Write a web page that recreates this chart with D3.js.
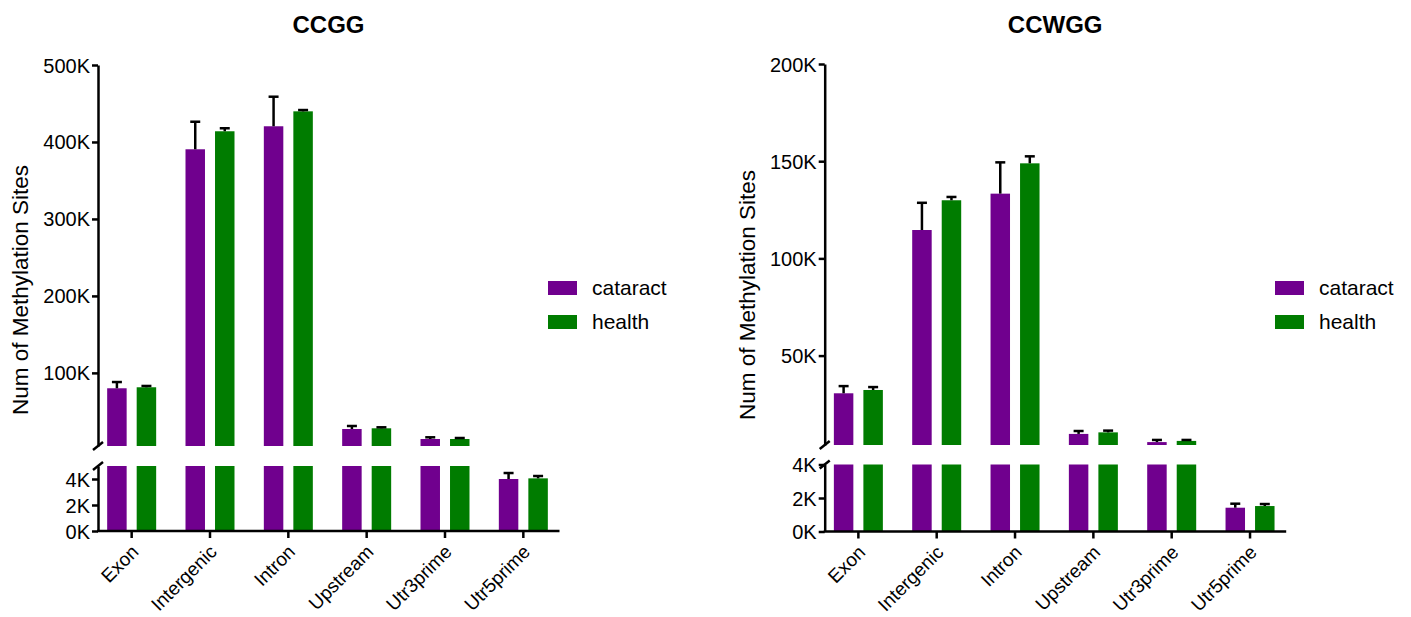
<!DOCTYPE html>
<html>
<head>
<meta charset="utf-8">
<script src="https://cdn.jsdelivr.net/npm/d3@7"></script>
<style>
  body { margin: 0; background: #fff; }
  svg text { font-family: Arial, "Liberation Sans", sans-serif; fill: #000; }
</style>
</head>
<body>
<svg id="chart" width="1411" height="617"></svg>
<script>
'use strict';

// categories + series
var categories = ['Exon', 'Intergenic', 'Intron', 'Upstream', 'Utr3prime', 'Utr5prime'];
var groups = ['cataract', 'health'];
var colors = ['#70008e', '#007c00'];

// CCGG
var ccggCataract    = [80000, 390500, 420400, 27100, 14100, 4000];
var ccggCataractErr = [8100, 35800, 38400, 3900, 2200, 460];
var ccggHealth      = [81300, 413900, 439800, 28000, 14100, 4050];
var ccggHealthErr   = [1700, 3900, 1700, 1300, 1300, 180];
var ccggUpperTicks  = [100000, 200000, 300000, 400000, 500000];
var ccggLowerTicks  = [0, 2000, 4000];

// CCWGG
var ccwggCataract    = [30600, 114600, 133300, 9700, 5500, 1420];
var ccwggCataractErr = [3700, 14000, 16100, 1500, 1100, 240];
var ccwggHealth      = [32300, 129900, 148900, 10500, 6100, 1520];
var ccwggHealthErr   = [1500, 1700, 3600, 900, 500, 120];
var ccwggUpperTicks  = [50000, 100000, 150000, 200000];
var ccwggLowerTicks  = [0, 2000, 4000];

var svg = d3.select('#chart');

function kFormat(v) { return (v / 1000) + 'K'; }

function drawChart(cfg) {
    var g = svg.append('g');

    var x = d3.scaleBand().domain(categories).range([cfg.x0, cfg.x0 + 470]).padding(0);
    var sub = d3.scaleBand().domain(groups).range([0, 49]).paddingInner(0.34);
    var upper = d3.scaleLinear().domain([cfg.brk, cfg.max]).range([cfg.upBottom, cfg.top]);
    var lower = d3.scaleLinear().domain([0, cfg.brk]).range([cfg.base, cfg.lowTop]);
    var axisX = cfg.x0 + 5.5;

    var series = [
        { key: 'cataract', vals: cfg.cat, errs: cfg.catErr },
        { key: 'health', vals: cfg.hea, errs: cfg.heaErr }
    ];

    series.forEach(function(s, si) {
        var rows = categories.map(function(c, i) {
            return { cat: c, v: s.vals[i], e: s.errs[i] };
        });
        var bx = function(d) { return x(d.cat) + x.bandwidth() / 2 - 24.5 + sub(s.key); };
        var bars = g.append('g').attr('fill', colors[si]);

        // lower segment
        bars.selectAll('rect.low').data(rows).join('rect')
            .attr('class', 'low')
            .attr('x', bx)
            .attr('width', sub.bandwidth())
            .attr('y', function(d) { return lower(Math.min(d.v, cfg.brk)); })
            .attr('height', function(d) { return cfg.base - lower(Math.min(d.v, cfg.brk)); });

        // upper segment
        bars.selectAll('rect.up').data(rows.filter(function(d) { return d.v > cfg.brk; })).join('rect')
            .attr('class', 'up')
            .attr('x', bx)
            .attr('width', sub.bandwidth())
            .attr('y', function(d) { return upper(d.v); })
            .attr('height', function(d) { return cfg.upBottom - upper(d.v); });

        // error bars (upper whisker only)
        var ys = function(v, d) { return d.v > cfg.brk ? upper(v) : lower(v); };
        var eb = g.append('g').attr('stroke', '#000').attr('stroke-width', 2.5);
        rows.forEach(function(d) {
            var cx = bx(d) + sub.bandwidth() / 2;
            var yTop = ys(d.v + d.e, d);
            eb.append('line').attr('x1', cx).attr('x2', cx)
                .attr('y1', ys(d.v, d)).attr('y2', yTop);
            eb.append('line').attr('x1', cx - 5).attr('x2', cx + 5)
                .attr('y1', yTop).attr('y2', yTop);
        });
    });

    // y axes (broken)
    var yUp = g.append('g').attr('transform', 'translate(' + axisX + ',0)')
        .call(d3.axisLeft(upper).tickValues(cfg.upTicks).tickFormat(kFormat).tickSize(6).tickSizeOuter(0));
    var yLow = g.append('g').attr('transform', 'translate(' + axisX + ',0)')
        .call(d3.axisLeft(lower).tickValues(cfg.lowTicks).tickFormat(kFormat).tickSize(6).tickSizeOuter(0));
    [yUp, yLow].forEach(function(a) {
        a.selectAll('path.domain').attr('stroke-width', 2.5);
        a.selectAll('.tick line').attr('stroke-width', 2.5);
        a.selectAll('.tick text').attr('font-size', 20).attr('x', -8).attr('dy', '0.35em');
    });

    // break slashes
    var slash = g.append('g').attr('stroke', '#000').attr('stroke-width', 2.5);
    slash.append('line').attr('x1', axisX - 5).attr('y1', cfg.upBottom + 4)
        .attr('x2', axisX + 5).attr('y2', cfg.upBottom - 4);
    slash.append('line').attr('x1', axisX - 5).attr('y1', cfg.lowTop + 4)
        .attr('x2', axisX + 5).attr('y2', cfg.lowTop - 4);

    // x axis
    var xa = g.append('g').attr('transform', 'translate(0,' + cfg.base + ')')
        .call(d3.axisBottom(x).tickSize(7).tickSizeOuter(0));
    xa.select('path.domain').attr('d', 'M' + (axisX - 1) + ',0H' + (cfg.x0 + 467)).attr('stroke-width', 2.5);
    xa.selectAll('.tick line').attr('stroke-width', 2.5);
    xa.selectAll('.tick text')
        .attr('font-size', 19)
        .attr('text-anchor', 'end')
        .attr('y', 0).attr('dy', 0)
        .attr('transform', 'translate(8,22) rotate(-45)');

    // title
    g.append('text')
        .attr('x', cfg.x0 + 236).attr('y', 33)
        .attr('text-anchor', 'middle')
        .attr('font-size', 24).attr('font-weight', 'bold')
        .text(cfg.title);

    // y label
    g.append('text')
        .attr('transform', 'translate(' + cfg.labelX + ',' + cfg.labelY + ') rotate(-90)')
        .attr('text-anchor', 'middle')
        .attr('font-size', 22.5)
        .text('Num of Methylation Sites');

    // legend
    var lg = g.append('g').attr('transform', 'translate(' + cfg.legX + ',281)');
    groups.forEach(function(name, i) {
        lg.append('rect').attr('x', 0).attr('y', i * 34).attr('width', 29).attr('height', 14)
            .attr('fill', colors[i]);
        lg.append('text').attr('x', 44).attr('y', i * 34 + 7).attr('dy', '0.35em')
            .attr('font-size', 21).text(name);
    });
}

drawChart({
    title: 'CCGG', x0: 92.5, cat: ccggCataract, catErr: ccggCataractErr,
    hea: ccggHealth, heaErr: ccggHealthErr,
    brk: 5000, max: 500000, top: 65, upBottom: 446, lowTop: 466, base: 531,
    upTicks: ccggUpperTicks, lowTicks: ccggLowerTicks,
    labelX: 28, labelY: 290, legX: 548
});

drawChart({
    title: 'CCWGG', x0: 819.2, cat: ccwggCataract, catErr: ccwggCataractErr,
    hea: ccwggHealth, heaErr: ccwggHealthErr,
    brk: 4000, max: 200000, top: 64, upBottom: 445, lowTop: 464.5, base: 531.5,
    upTicks: ccwggUpperTicks, lowTicks: ccwggLowerTicks,
    labelX: 755, labelY: 295, legX: 1275
});
</script>
</body>
</html>
